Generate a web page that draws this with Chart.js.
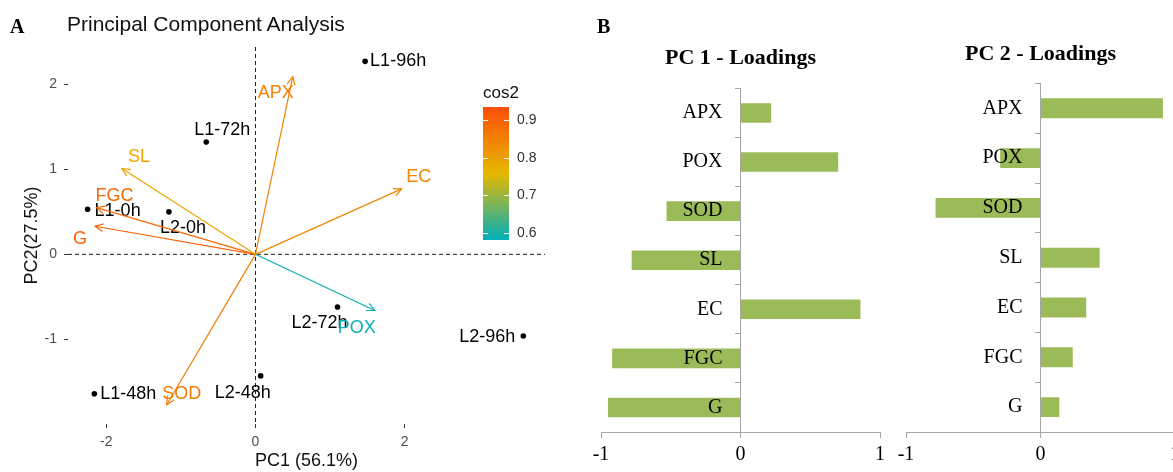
<!DOCTYPE html>
<html><head><meta charset="utf-8">
<script src="https://cdn.jsdelivr.net/npm/chart.js@4.4.1/dist/chart.umd.min.js"></script>
<style>
html,body{margin:0;padding:0;background:#fff;width:1173px;height:472px;overflow:hidden;}
#wrap{position:relative;width:1173px;height:472px;overflow:hidden;background:#fff;}
.box{position:absolute;top:0;height:472px;}
#boxA{left:0;width:575px;}
#boxB1{left:580px;width:310px;}
#boxB2{left:880px;width:310px;}
.tag{position:absolute;font-family:"Liberation Serif",serif;font-weight:bold;font-size:20px;line-height:20px;color:#000;}
#title{position:absolute;left:67px;top:13px;font-family:"Liberation Sans",Arial,sans-serif;font-size:21px;line-height:21px;color:#111;white-space:nowrap;}
canvas{display:block;}
</style></head>
<body><div id="wrap">
<div class="box" id="boxA"><canvas id="cA" width="575" height="472"></canvas></div>
<div class="box" id="boxB1"><canvas id="cB1" width="310" height="472"></canvas></div>
<div class="box" id="boxB2"><canvas id="cB2" width="310" height="472"></canvas></div>
<div class="tag" style="left:10px;top:16px">A</div>
<div id="title">Principal Component Analysis</div>
<div class="tag" style="left:597px;top:16px">B</div>
</div>
<script>
// ---------- data ----------
const individuals = ['L1-96h','L1-72h','L1-0h','L2-0h','L1-48h','L2-48h','L2-72h','L2-96h'];
const indPC1 = [1.47, -0.66, -2.25, -1.16, -2.16, 0.07, 1.10, 3.59];
const indPC2 = [2.27, 1.32, 0.53, 0.50, -1.64, -1.43, -0.62, -0.96];

const variables = ['APX','POX','SOD','SL','EC','FGC','G'];
const varPC1 = [0.50, 1.60, -1.19, -1.79, 1.96, -2.13, -2.15];
const varPC2 = [2.09, -0.66, -1.77, 1.01, 0.77, 0.55, 0.33];
const varCos2 = [0.85, 0.59, 0.86, 0.79, 0.84, 0.89, 0.90];

const pcaXTicks = [-2, 0, 2];
const pcaYTicks = [-1, 0, 1, 2];
const cos2Ticks = [0.6, 0.7, 0.8, 0.9];
const cos2Range = [0.58, 0.935];

const loadCategories = ['APX','POX','SOD','SL','EC','FGC','G'];
const pc1Loadings = [0.22, 0.70, -0.53, -0.78, 0.86, -0.92, -0.95];
const pc2Loadings = [0.91, -0.30, -0.78, 0.44, 0.34, 0.24, 0.14];
const loadTicks = [-1, 0, 1];

// ---------- styles ----------
const SANS = '"Liberation Sans", Arial, sans-serif';
const SERIF = '"Liberation Serif", "Times New Roman", serif';
const gradientCols = ['#00AFBB', '#E7B800', '#FC4E07'];
const indLabelOffsets = [[33,0],[16,-12],[30,2],[14,16],[34,0],[-18,17],[-18,16],[-36,1]];
const varLabelOffsets = [[-17,16],[-18,18],[15,-11],[17,-11],[17,-12],[18,-12],[-15,13]];
const CAT_LABEL_GAP = 18;

function hex2rgb(h){return [1,3,5].map(i=>parseInt(h.substr(i,2),16));}
function cos2Color(v){
  const [lo,hi]=cos2Range;
  let t=Math.min(1,Math.max(0,(v-lo)/(hi-lo)));
  let a,b,s;
  if(t<0.5){a=hex2rgb(gradientCols[0]);b=hex2rgb(gradientCols[1]);s=t*2;}
  else {a=hex2rgb(gradientCols[1]);b=hex2rgb(gradientCols[2]);s=(t-0.5)*2;}
  const c=a.map((x,i)=>Math.round(x+(b[i]-x)*s));
  return 'rgb('+c.join(',')+')';
}

// ---------- PCA biplot ----------
const varDatasets = variables.map((v,i)=>({
  label: v,
  data: [{x:0,y:0},{x:varPC1[i],y:varPC2[i]}],
  showLine: true,
  borderColor: cos2Color(varCos2[i]),
  borderWidth: 1.2,
  pointRadius: 0,
  fill: false
}));
const indDataset = {
  label: 'individuals',
  data: individuals.map((n,i)=>({x:indPC1[i],y:indPC2[i]})),
  showLine: false,
  pointRadius: 2.8,
  pointBackgroundColor: '#000',
  pointBorderWidth: 0
};
const IND_IDX = varDatasets.length;

const biplotPlugin = {
  id: 'biplot',
  beforeDatasetsDraw(chart){
    const {ctx, chartArea:a, scales:{x,y}} = chart;
    const x0=x.getPixelForValue(0), y0=y.getPixelForValue(0);
    ctx.save();
    ctx.strokeStyle='#000'; ctx.lineWidth=0.9; ctx.setLineDash([4,3]);
    ctx.beginPath();
    ctx.moveTo(a.left,y0); ctx.lineTo(a.right,y0);
    ctx.moveTo(x0,a.top); ctx.lineTo(x0,a.bottom);
    ctx.stroke();
    ctx.restore();
    const meta = chart.getDatasetMeta(IND_IDX);
    ctx.save();
    ctx.font='18px '+SANS; ctx.fillStyle='#000'; ctx.textAlign='center'; ctx.textBaseline='middle';
    meta.data.forEach((pt,i)=>{
      ctx.fillText(individuals[i], pt.x+indLabelOffsets[i][0], pt.y+indLabelOffsets[i][1]);
    });
    ctx.restore();
  },
  afterDatasetsDraw(chart){
    const ctx=chart.ctx;
    variables.forEach((v,i)=>{
      const meta=chart.getDatasetMeta(i);
      const p0=meta.data[0], p1=meta.data[1];
      const ang=Math.atan2(p1.y-p0.y,p1.x-p0.x);
      const L=9, spread=Math.PI/7;
      const col=cos2Color(varCos2[i]);
      ctx.save();
      ctx.strokeStyle=col; ctx.lineWidth=1.2;
      ctx.beginPath();
      ctx.moveTo(p1.x-L*Math.cos(ang-spread), p1.y-L*Math.sin(ang-spread));
      ctx.lineTo(p1.x,p1.y);
      ctx.lineTo(p1.x-L*Math.cos(ang+spread), p1.y-L*Math.sin(ang+spread));
      ctx.stroke();
      ctx.font='18px '+SANS; ctx.fillStyle=col; ctx.textAlign='center'; ctx.textBaseline='middle';
      ctx.fillText(v, p1.x+varLabelOffsets[i][0], p1.y+varLabelOffsets[i][1]);
      ctx.restore();
    });
  },
  afterDraw(chart){
    const ctx=chart.ctx;
    const bx=483, bw=26, by=107, bh=133;
    const [lo,hi]=cos2Range;
    ctx.save();
    const g=ctx.createLinearGradient(0,by+bh,0,by);
    g.addColorStop(0,gradientCols[0]); g.addColorStop(0.5,gradientCols[1]); g.addColorStop(1,gradientCols[2]);
    ctx.fillStyle=g; ctx.fillRect(bx,by,bw,bh);
    ctx.font='14px '+SANS; ctx.textAlign='left'; ctx.textBaseline='middle';
    cos2Ticks.forEach(v=>{
      const yy=Math.round(by+(hi-v)/(hi-lo)*bh)+0.5;
      ctx.strokeStyle='#fff'; ctx.lineWidth=1;
      ctx.beginPath();
      ctx.moveTo(bx,yy); ctx.lineTo(bx+5,yy);
      ctx.moveTo(bx+bw-5,yy); ctx.lineTo(bx+bw,yy);
      ctx.stroke();
      ctx.fillStyle='#333';
      ctx.fillText(v.toFixed(1), bx+bw+8, yy);
    });
    ctx.font='17px '+SANS; ctx.fillStyle='#111'; ctx.textBaseline='middle';
    ctx.fillText('cos2', bx, 93);
    ctx.restore();
  }
};

new Chart(document.getElementById('cA'), {
  type: 'scatter',
  data: { datasets: [...varDatasets, indDataset] },
  options: {
    responsive: false, animation: false, events: [],
    layout: { padding: { left: 0, right: 30, top: 47, bottom: 0 } },
    plugins: { legend: {display:false}, tooltip: {enabled:false} },
    scales: {
      x: {
        type: 'linear', min: -2.513, max: 3.881,
        afterBuildTicks: s => { s.ticks = pcaXTicks.map(v=>({value:v})); },
        afterFit: s => { s.height = 48; },
        grid: { drawOnChartArea: false, drawTicks: true, tickLength: 4, color: '#333' },
        border: { display: false },
        ticks: { font: {family: SANS, size: 14}, color: '#4D4D4D', padding: 6 },
        title: { display: true, text: 'PC1 (56.1%)', font: {family: SANS, size: 18}, color: '#111', padding: {top:0, bottom:0} }
      },
      y: {
        type: 'linear', min: -1.996, max: 2.439,
        afterBuildTicks: s => { s.ticks = pcaYTicks.map(v=>({value:v})); },
        afterFit: s => { s.width = 68; },
        grid: { drawOnChartArea: false, drawTicks: true, tickLength: 4, color: '#333' },
        border: { display: false },
        ticks: { font: {family: SANS, size: 14}, color: '#4D4D4D', padding: 7 },
        title: { display: true, text: 'PC2(27.5%)', font: {family: SANS, size: 18}, color: '#111', padding: {top: 21, bottom: 0} }
      }
    }
  },
  plugins: [biplotPlugin]
});

// ---------- loadings bar charts ----------
// category labels sit left of the zero axis, drawn above the bars
const catLabelPlugin = {
  id: 'catLabelGap',
  beforeDraw(chart){
    const items = chart.scales.y.getLabelItems();
    if (items && !items._shifted) {
      items.forEach(it => { it.options.translation[0] -= CAT_LABEL_GAP; });
      items._shifted = true;
    }
  }
};

function loadingsChart(id, title, values, padL, padR, tTop, tBottom){
  return new Chart(document.getElementById(id), {
    type: 'bar',
    data: { labels: loadCategories, datasets: [{ data: values, backgroundColor: '#9BBB59', barPercentage: 0.4, categoryPercentage: 1 }] },
    options: {
      indexAxis: 'y', responsive: false, animation: false, events: [],
      layout: { padding: { left: padL, right: padR, top: 0, bottom: 0 } },
      plugins: {
        legend: {display:false}, tooltip: {enabled:false},
        title: { display: true, text: title, color: '#000', font: {family: SERIF, size: 22, weight: 'bold', lineHeight: 1.2}, padding: {top: tTop, bottom: tBottom} }
      },
      scales: {
        x: {
          type: 'linear', min: -1, max: 1,
          afterBuildTicks: s => { s.ticks = loadTicks.map(v=>({value:v})); },
          afterFit: s => { s.height = 40; },
          grid: { drawOnChartArea: false, drawTicks: true, tickLength: 6, color: '#A6A6A6' },
          border: { display: true, color: '#A6A6A6', width: 1 },
          ticks: { font: {family: SERIF, size: 20}, color: '#000', padding: 5 }
        },
        y: {
          type: 'category', position: { x: 0 }, offset: true,
          grid: { offset: true, drawOnChartArea: false, drawTicks: true, tickLength: 5, color: '#A6A6A6' },
          border: { display: true, color: '#A6A6A6', width: 1 },
          ticks: { font: {family: SERIF, size: 20}, color: '#000', padding: 0, z: 1 }
        }
      }
    },
    plugins: [catLabelPlugin]
  });
}
loadingsChart('cB1', 'PC 1 - Loadings', pc1Loadings, 21, 10, 45, 17);
loadingsChart('cB2', 'PC 2 - Loadings', pc2Loadings, 26, 15, 41, 16);
</script>
</body></html>
